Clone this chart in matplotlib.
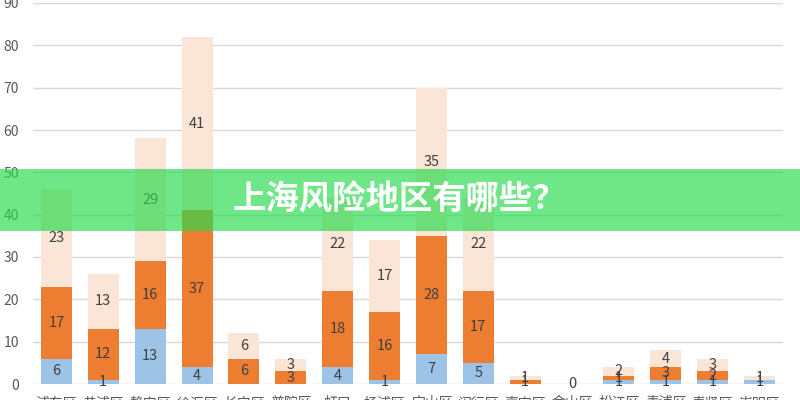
import numpy as np
import matplotlib.pyplot as plt
from matplotlib.patches import Rectangle

plt.rcParams['font.family'] = ['Noto Sans CJK SC', 'DejaVu Sans']

districts = ['浦东区', '黄浦区', '静安区', '徐汇区', '长宁区', '普陀区', '虹口', '杨浦区',
             '宝山区', '闵行区', '嘉定区', '金山区', '松江区', '青浦区', '奉贤区', '崇明区']
blue_vals = [6, 1, 13, 4, 0, 0, 4, 1, 7, 5, 0, 0, 1, 1, 1, 1]
orange_vals = [17, 12, 16, 37, 6, 3, 18, 16, 28, 17, 1, 0, 1, 3, 2, 0]
peach_vals = [23, 13, 29, 41, 6, 3, 22, 17, 35, 22, 1, 0, 2, 4, 3, 1]
y_ticks = [0, 10, 20, 30, 40, 50, 60, 70, 80, 90]
title = '上海风险地区有哪些？'

blue = np.array(blue_vals)
orange = np.array(orange_vals)
peach = np.array(peach_vals)
x = np.arange(len(districts))

fig = plt.figure(figsize=(8, 4), dpi=100)
ax = fig.add_axes([33 / 800, 1 - 384 / 400, 750 / 800, 381 / 400])

w = 0.66
ax.bar(x, blue, w, color='#9DC3E6', zorder=2)
ax.bar(x, orange, w, bottom=blue, color='#ED7D31', zorder=2)
ax.bar(x, peach, w, bottom=blue + orange, color='#FBE5D6', zorder=2)

# value labels in the middle of each segment
for i in x:
    base = 0
    for v in (blue[i], orange[i], peach[i]):
        if v > 0:
            ax.text(i, base + v / 2, str(v), ha='center', va='center',
                    fontsize=10.5, color='#404040', zorder=3)
        base += v
    if base == 0:
        ax.text(i, 0, '0', ha='center', va='center', fontsize=10.5,
                color='#404040', zorder=3)

ax.set_xlim(-0.5, len(districts) - 0.5)
ax.set_ylim(0, 90)
ax.set_yticks(y_ticks)
ax.set_xticks(x)
ax.set_xticklabels(districts)
ax.tick_params(axis='both', length=0, labelsize=10, labelcolor='#595959')
ax.tick_params(axis='y', pad=10)
ax.tick_params(axis='x', pad=9)
ax.grid(axis='y', color='#D9D9D9', linewidth=1, zorder=0)
for s in ax.spines.values():
    s.set_visible(False)

# green banner with title on top
fig.patches.append(Rectangle((0, 1 - 231 / 400), 1, 62 / 400, transform=fig.transFigure,
                             facecolor=(40 / 255, 218 / 255, 76 / 255), alpha=0.67,
                             edgecolor='none', zorder=5))
fig.text(0.5, 1 - 200 / 400, title, ha='center', va='center', fontsize=24,
         fontweight='bold', color='white', zorder=6)

fig.savefig('out.png', dpi=100)
